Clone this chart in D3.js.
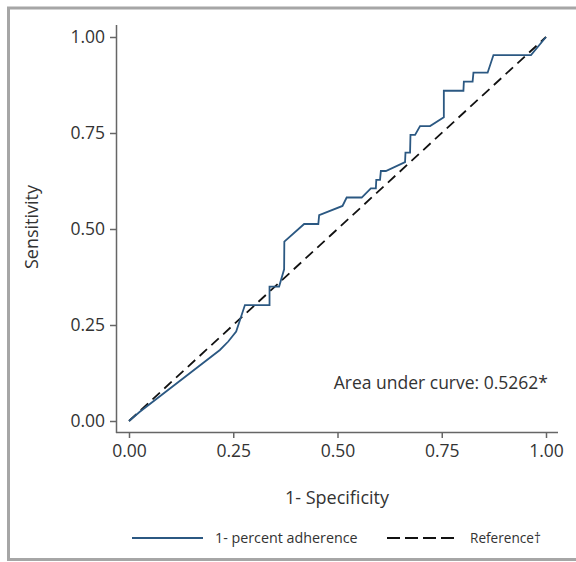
<!DOCTYPE html>
<html lang="en">
  <head>
    <meta charset="utf-8">
    <title>ROC curve</title>
    <script type="text/javascript" src="https://d3js.org/d3.v7.min.js"></script>
    <style>
      body { margin: 0; background: #fff; }
      text { font-family: "Open Sans", sans-serif; fill: #333; }
    </style>
  </head>
  <body>
    <script type="text/javascript">
    var w = 576;
    var h = 562;

    // ROC points
    var fpr = [0, 0.026, 0.218, 0.238, 0.257, 0.278, 0.337, 0.337, 0.36, 0.372, 0.3725,
      0.42, 0.454, 0.456, 0.512, 0.522, 0.558, 0.58, 0.592, 0.593, 0.602, 0.604, 0.616,
      0.662, 0.663, 0.674, 0.675, 0.686, 0.698, 0.722, 0.755, 0.755, 0.802, 0.803, 0.824,
      0.826, 0.86, 0.874, 0.964, 1];
    var tpr = [0, 0.024, 0.185, 0.207, 0.233, 0.302, 0.302, 0.35, 0.35, 0.395, 0.467,
      0.513, 0.513, 0.536, 0.56, 0.582, 0.582, 0.606, 0.606, 0.628, 0.628, 0.651, 0.651,
      0.674, 0.699, 0.699, 0.745, 0.745, 0.768, 0.768, 0.791, 0.86, 0.86, 0.884, 0.884,
      0.907, 0.907, 0.953, 0.953, 1];
    var refLine = [0, 1];
    var ticks = [0, 0.25, 0.5, 0.75, 1];
    var aucLabel = "Area under curve: 0.5262*";
    var legendLabels = ["1- percent adherence", "Reference\u2020"];

    var xscale = d3.scaleLinear().domain([0, 1]).range([129, 546]);
    var yscale = d3.scaleLinear().domain([0, 1]).range([421, 37]);

    var svg = d3.select("body").append("svg").attr("width", w).attr("height", h);

    // outer frame
    svg.append("rect")
      .attr("x", 8.5).attr("y", 8).attr("width", 600).attr("height", 551.5)
      .attr("fill", "none").attr("stroke", "#a6a6a6").attr("stroke-width", 3);

    var axisColor = "#666";

    var xAxis = d3.axisBottom(xscale).tickValues(ticks).tickFormat(d3.format(".2f"))
      .tickSizeInner(6).tickSizeOuter(0).tickPadding(7);
    var gx = svg.append("g").attr("transform", "translate(0,432)").call(xAxis);
    gx.select(".domain").attr("d", "M116,0.5H558");

    var yAxis = d3.axisLeft(yscale).tickValues(ticks).tickFormat(d3.format(".2f"))
      .tickSizeInner(6).tickSizeOuter(0).tickPadding(5);
    var gy = svg.append("g").attr("transform", "translate(116,0)").call(yAxis);
    gy.select(".domain").attr("d", "M0.5,25V433");

    [gx, gy].forEach(function(g) {
      g.selectAll("path, line").attr("stroke", axisColor).attr("stroke-width", 1.5);
      g.selectAll("text").attr("font-size", 17.5).attr("fill", "#333")
        .style("font-family", "'Open Sans', sans-serif");
    });

    // reference diagonal
    svg.append("line")
      .attr("x1", xscale(refLine[0])).attr("y1", yscale(refLine[0]))
      .attr("x2", xscale(refLine[1])).attr("y2", yscale(refLine[1]))
      .attr("stroke", "#111").attr("stroke-width", 1.8)
      .attr("stroke-dasharray", "10,6");

    // roc curve
    var line = d3.line()
      .x(function(d) { return xscale(d[0]); })
      .y(function(d) { return yscale(d[1]); });
    svg.append("path")
      .datum(d3.zip(fpr, tpr))
      .attr("d", line)
      .attr("fill", "none")
      .attr("stroke", "#2b5882")
      .attr("stroke-width", 1.8)
      .attr("stroke-linejoin", "miter");

    svg.append("text")
      .attr("x", 548).attr("y", 389)
      .attr("text-anchor", "end").attr("font-size", 17.5)
      .text(aucLabel);

    svg.append("text")
      .attr("x", 337).attr("y", 504)
      .attr("text-anchor", "middle").attr("font-size", 18)
      .text("1- Specificity");

    svg.append("text")
      .attr("transform", "translate(38,227) rotate(-90)")
      .attr("text-anchor", "middle").attr("font-size", 18)
      .text("Sensitivity");

    // legend
    svg.append("line")
      .attr("x1", 132).attr("x2", 203).attr("y1", 538).attr("y2", 538)
      .attr("stroke", "#2b5882").attr("stroke-width", 1.8);
    svg.append("text")
      .attr("x", 215).attr("y", 543).attr("font-size", 14.3)
      .text(legendLabels[0]);
    svg.append("line")
      .attr("x1", 387).attr("x2", 459).attr("y1", 538).attr("y2", 538)
      .attr("stroke", "#111").attr("stroke-width", 2)
      .attr("stroke-dasharray", "13,5,13,5,13,5,13,6,2");
    svg.append("text")
      .attr("x", 470).attr("y", 543).attr("font-size", 13.6)
      .text(legendLabels[1]);
    </script>
  </body>
</html>
